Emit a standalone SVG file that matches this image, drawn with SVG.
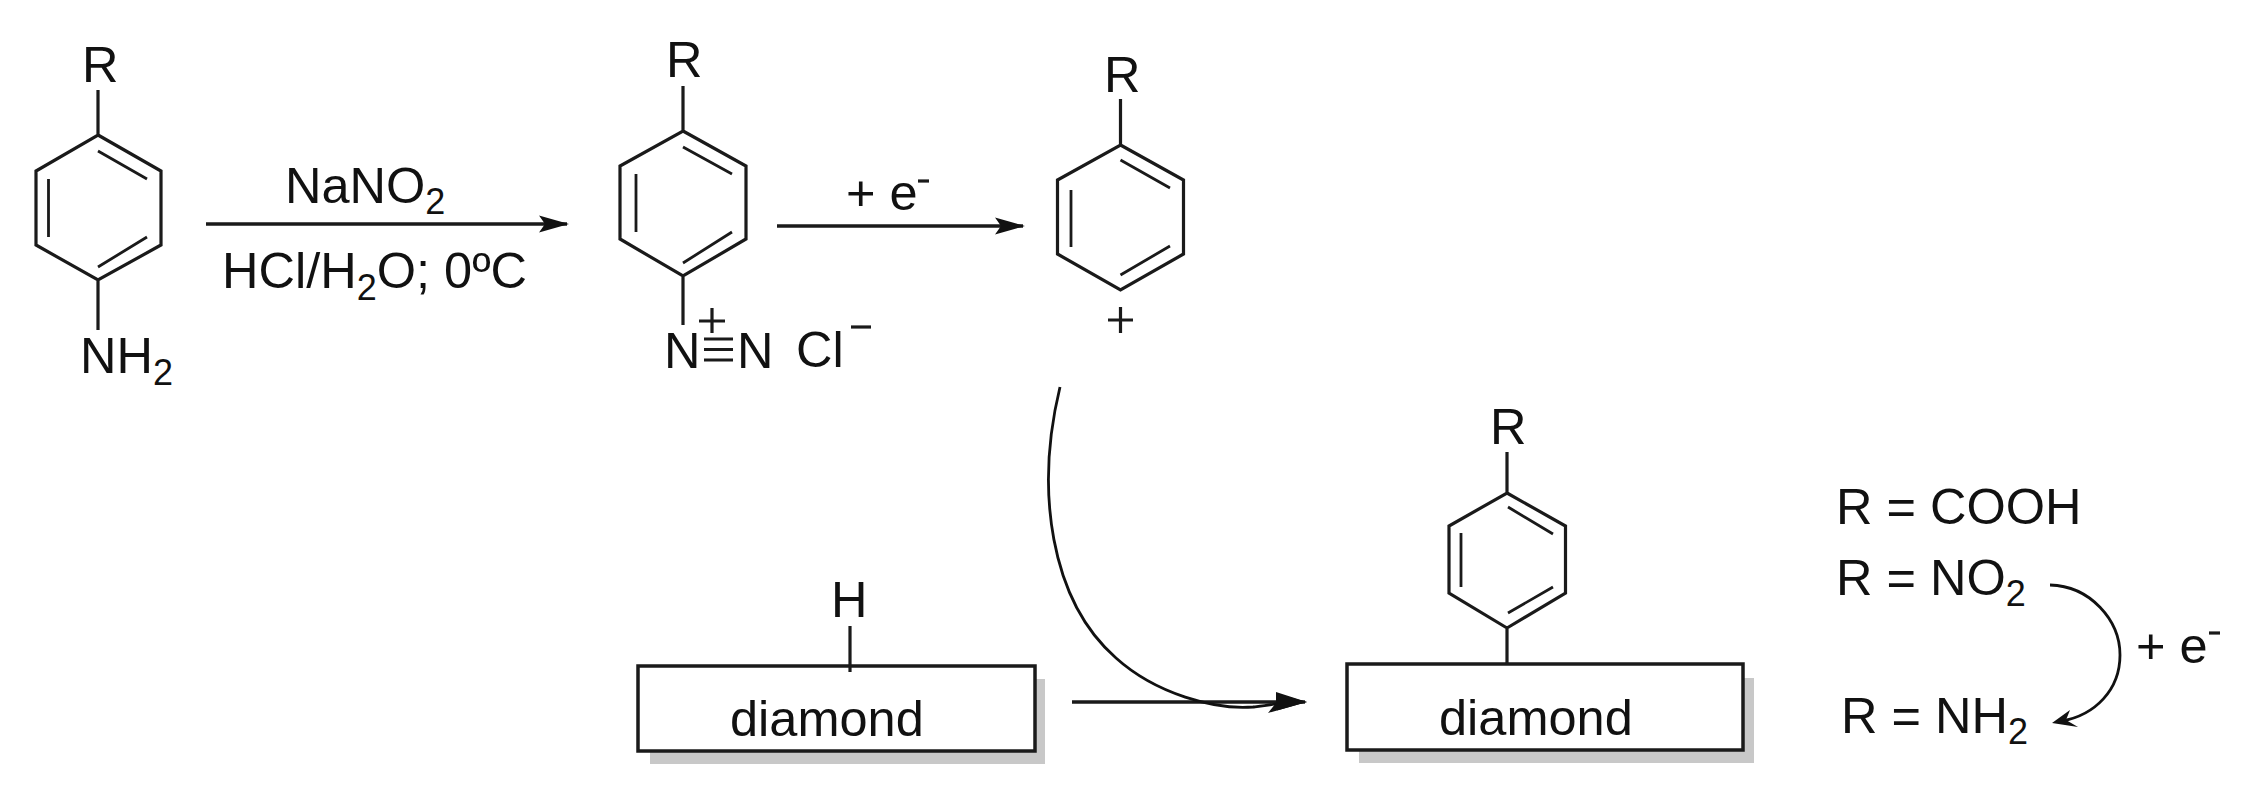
<svg xmlns="http://www.w3.org/2000/svg" width="2255" height="794" viewBox="0 0 2255 794">
<style>
text{font-family:"Liberation Sans",Arial,sans-serif;font-size:50.500px;fill:#111}
.sub{font-size:36px}
.b{fill:none;stroke:#1a1a1a;stroke-width:3.200;stroke-linejoin:miter;stroke-linecap:butt}
.i{fill:none;stroke:#1a1a1a;stroke-width:2.800}
.box{fill:#fff;stroke:#1a1a1a;stroke-width:3.500}
.sh{fill:#c8c8c8}
.a{fill:none;stroke:#1a1a1a;stroke-width:3.500}
.c{fill:none;stroke:#111;stroke-width:2.800}
</style>
<defs>
<marker id="head" markerUnits="userSpaceOnUse" markerWidth="32" markerHeight="20" refX="28" refY="10" orient="auto">
<path d="M0,1.500 L30,10 L0,18.500 L6,10 Z" fill="#111"/>
</marker>
</defs>
<g id="connectors">
<path class="a" d="M206,224 H567" marker-end="url(#head)"/>
<path class="a" d="M777,226 H1023" marker-end="url(#head)"/>
<path class="a" d="M1072,702 H1305" marker-end="url(#head)"/>
<path class="c" d="M1060,387 C1035,490 1050,600 1116,658 C1156,694 1215,710 1253,707 C1262,706 1272,705 1279,703"/>
<path d="M1307,702 L1268,713 L1276,703 L1276,692 Z" fill="#111"/>
<path class="c" d="M2050,585 C2090,586 2120,620 2120,655 C2120,690 2095,715 2062,721"/>
<path d="M2052,723 L2070,710 L2066,720 L2078,727 Z" fill="#111"/>
</g>
<g id="aniline">
<path class="b" d="M98,135 L161,171 V245 L98,280 L36,245 V171 Z M98,90 V135 M98,280 V330"/>
<path class="i" d="M98,151 L147,179 M48.500,179 V237 M98,267 L147,237"/>
<text x="82" y="82">R</text>
<text x="80" y="373">NH<tspan class="sub" dy="12">2</tspan></text>
</g>
<g id="reagents">
<text x="285" y="203">NaNO<tspan class="sub" dy="11">2</tspan></text>
<text x="222" y="288">HCl/H<tspan class="sub" dy="12">2</tspan><tspan dy="-12">O; 0ºC</tspan></text>
</g>
<g id="diazonium">
<path class="b" d="M683,131 L746,166 V239 L683,276 L620,239 V166 Z M683,86 V131 M683,276 V325"/>
<path class="i" d="M683,147 L732,174 M636,174 V232 M683,263 L732,232"/>
<text x="666" y="77">R</text>
<text x="664" y="368">N</text>
<path class="b" d="M704,339 H733 M704,349.500 H733 M704,360 H733 M699,321 H725 M712,308 V333"/>
<text x="737" y="368">N</text>
<text x="796" y="367">Cl</text>
<path class="b" d="M851,327 H871"/>
</g>
<g id="electron-label">
<text x="846" y="210">+ e</text>
<path class="b" d="M918,181 H929"/>
</g>
<g id="aryl-cation">
<path class="b" d="M1120.500,145 L1183.500,180 V254 L1120.500,290 L1057.500,254 V180 Z M1120.500,99 V145"/>
<path class="i" d="M1120.500,160 L1170,188 M1071,190 V247 M1120.500,275 L1170,246"/>
<text x="1104" y="92">R</text>
<path class="b" d="M1108,320 H1133 M1120.500,307 V333"/>
</g>
<g id="diamond-h">
<rect class="sh" x="650" y="679" width="395" height="85"/>
<rect class="box" x="638" y="666" width="397" height="85"/>
<path class="b" d="M850,626 V672"/>
<text x="831" y="617">H</text>
<text x="730" y="736">diamond</text>
</g>
<g id="diamond-aryl">
<rect class="sh" x="1359" y="678" width="395" height="85"/>
<rect class="box" x="1347" y="664" width="396" height="86"/>
<path class="b" d="M1507,493 L1565.500,526 V593 L1507,628 L1449,593 V526 Z M1507,452 V493 M1507,628 V664"/>
<path class="i" d="M1508,507 L1553,534 M1461,533 V587 M1508,613 L1553,587"/>
<text x="1490" y="444">R</text>
<text x="1439" y="735">diamond</text>
</g>
<g id="legend">
<text x="1836" y="524">R = COOH</text>
<text x="1836" y="595">R = NO<tspan class="sub" dy="11">2</tspan></text>
<text x="1841" y="733">R = NH<tspan class="sub" dy="11">2</tspan></text>
<text x="2136" y="663">+ e</text>
<path class="b" d="M2209,633 H2220"/>
</g>
</svg>
